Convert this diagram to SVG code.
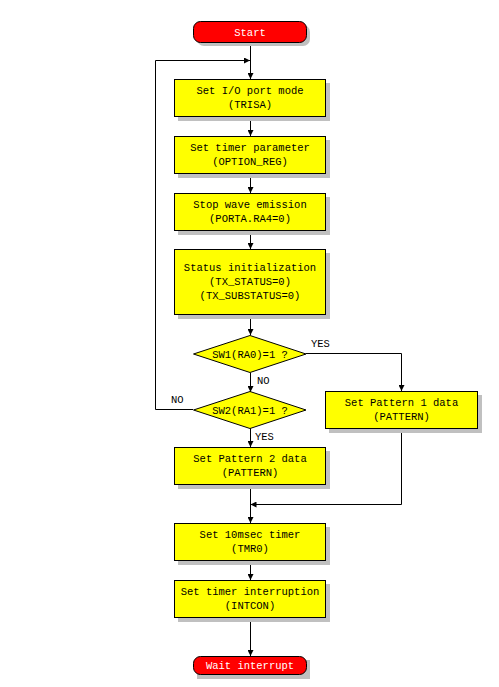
<svg xmlns="http://www.w3.org/2000/svg" width="499" height="687" viewBox="0 0 499 687">
<defs>
<style>
.bx{fill:#ffff00;stroke:#000;stroke-width:1}
.sh{fill:#c0c0c0}
.tm{fill:#ff0000;stroke:#000;stroke-width:1}
.ln{fill:none;stroke:#000;stroke-width:1}
text{font-family:"Liberation Mono","DejaVu Sans Mono",monospace;font-size:10.5px;text-anchor:middle;fill:#000}
.wt{fill:#fff}
.lb{text-anchor:start}
</style>
<marker id="ah" viewBox="0 0 10 10" refX="10" refY="5" markerWidth="6" markerHeight="6" markerUnits="userSpaceOnUse" orient="auto"><path d="M0,0 L10,5 L0,10 z" fill="#000"/></marker>
</defs>
<rect width="499" height="687" fill="#fff"/>
<g id="connectors">
<path class="ln" d="M250.5,43 V79" marker-end="url(#ah)"/>
<path class="ln" d="M193,409.5 H155.5 V60.5 H250" marker-end="url(#ah)"/>
<path class="ln" d="M250.5,117 V136" marker-end="url(#ah)"/>
<path class="ln" d="M250.5,174 V193" marker-end="url(#ah)"/>
<path class="ln" d="M250.5,230 V249" marker-end="url(#ah)"/>
<path class="ln" d="M250.5,315 V335" marker-end="url(#ah)"/>
<path class="ln" d="M250.5,373 V392" marker-end="url(#ah)"/>
<path class="ln" d="M306,353.5 H401.5 V391" marker-end="url(#ah)"/>
<path class="ln" d="M250.5,428 V447" marker-end="url(#ah)"/>
<path class="ln" d="M401.5,428 V504.5 H250.5" marker-end="url(#ah)"/>
<path class="ln" d="M250.5,485 V523" marker-end="url(#ah)"/>
<path class="ln" d="M250.5,561 V580" marker-end="url(#ah)"/>
<path class="ln" d="M250.5,617 V656" marker-end="url(#ah)"/>
<text class="lb" x="311" y="347">YES</text>
<text class="lb" x="257" y="384">NO</text>
<text class="lb" x="171" y="403">NO</text>
<text class="lb" x="255" y="440">YES</text>
</g>
<g id="start">
<rect class="sh" x="197" y="25" width="113" height="21" rx="7"/>
<rect class="tm" x="193.5" y="21.5" width="113" height="21" rx="7"/>
<text class="wt" x="250" y="35.5">Start</text>
</g>
<g id="n1">
<rect class="sh" x="178" y="83" width="152" height="38"/>
<rect class="bx" x="174.5" y="79.5" width="151" height="37"/>
<text x="250" y="93.5">Set I/O port mode</text>
<text x="250" y="107.5">(TRISA)</text>
</g>
<g id="n2">
<rect class="sh" x="178" y="140" width="152" height="38"/>
<rect class="bx" x="174.5" y="136.5" width="151" height="37"/>
<text x="250" y="150.5">Set timer parameter</text>
<text x="250" y="164.5">(OPTION_REG)</text>
</g>
<g id="n3">
<rect class="sh" x="178" y="197" width="152" height="38"/>
<rect class="bx" x="174.5" y="193.5" width="151" height="37"/>
<text x="250" y="207.5">Stop wave emission</text>
<text x="250" y="221.5">(PORTA.RA4=0)</text>
</g>
<g id="n4">
<rect class="sh" x="178" y="253" width="152" height="66"/>
<rect class="bx" x="174.5" y="249.5" width="151" height="65"/>
<text x="250" y="271">Status initialization</text>
<text x="250" y="285">(TX_STATUS=0)</text>
<text x="250" y="299">(TX_SUBSTATUS=0)</text>
</g>
<g id="d1">
<path class="bx" d="M193.5,354 L250,335.5 L306,354 L250,372.5 Z"/>
<text x="250" y="358">SW1(RA0)=1 ?</text>
</g>
<g id="d2">
<path class="bx" d="M193.5,410 L250,391.5 L306,410 L250,428.5 Z"/>
<text x="250" y="414">SW2(RA1)=1 ?</text>
</g>
<g id="p1">
<rect class="sh" x="329" y="395" width="153" height="38"/>
<rect class="bx" x="325.5" y="391.5" width="152" height="37"/>
<text x="401.5" y="405.5">Set Pattern 1 data</text>
<text x="401.5" y="419.5">(PATTERN)</text>
</g>
<g id="p2">
<rect class="sh" x="178" y="451" width="152" height="38"/>
<rect class="bx" x="174.5" y="447.5" width="151" height="37"/>
<text x="250" y="461.5">Set Pattern 2 data</text>
<text x="250" y="475.5">(PATTERN)</text>
</g>
<g id="n5">
<rect class="sh" x="178" y="527" width="152" height="38"/>
<rect class="bx" x="174.5" y="523.5" width="151" height="37"/>
<text x="250" y="537.5">Set 10msec timer</text>
<text x="250" y="551.5">(TMR0)</text>
</g>
<g id="n6">
<rect class="sh" x="178" y="584" width="152" height="38"/>
<rect class="bx" x="174.5" y="580.5" width="151" height="37"/>
<text x="250" y="594.5">Set timer interruption</text>
<text x="250" y="608.5">(INTCON)</text>
</g>
<g id="end">
<rect class="sh" x="197" y="660" width="113" height="19"/>
<rect class="tm" x="193.5" y="656.5" width="113" height="18" rx="7"/>
<text class="wt" x="250" y="669">Wait interrupt</text>
</g>
</svg>
